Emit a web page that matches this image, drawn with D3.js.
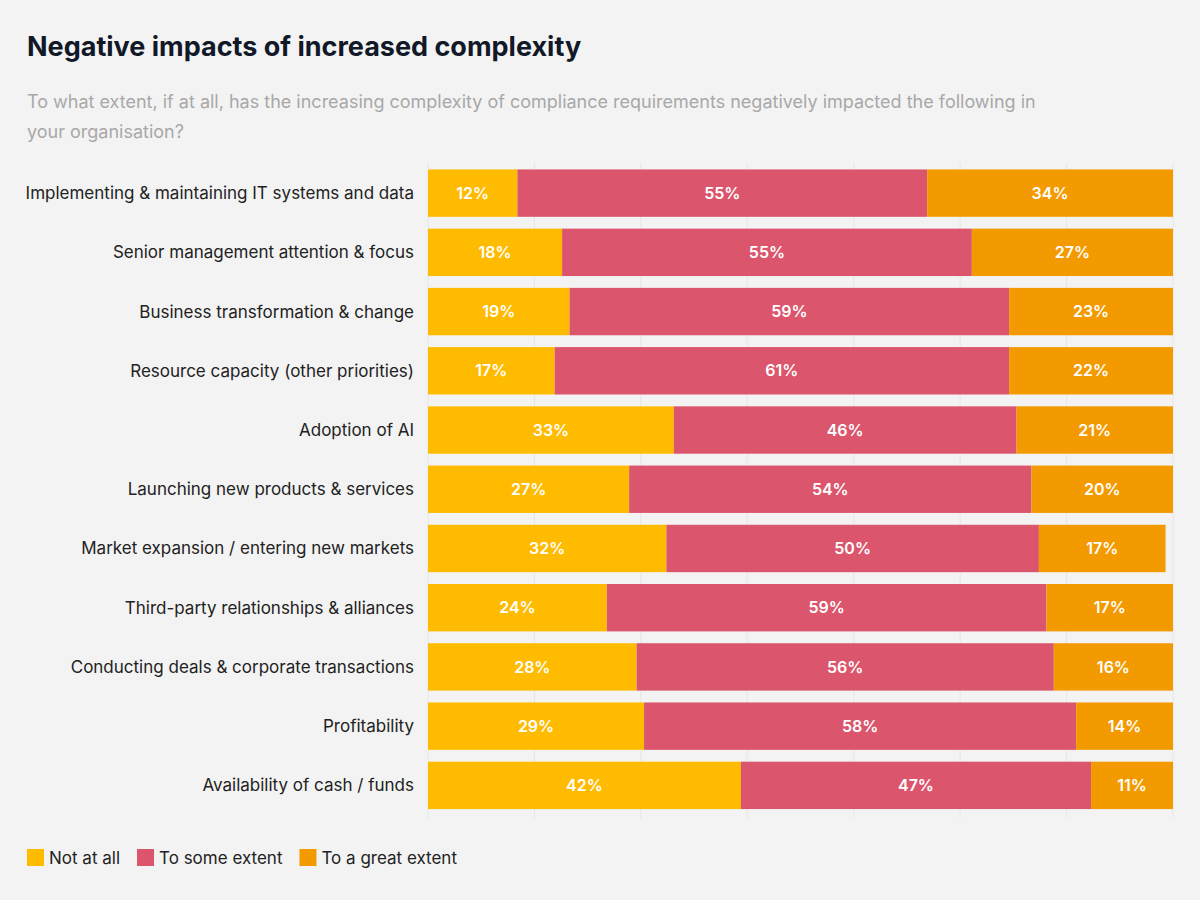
<!DOCTYPE html>
<html lang="en">
<head>
<meta charset="utf-8" />
<title>Negative impacts</title>
<script src="https://d3js.org/d3.v7.min.js"></script>
<style>
  body { margin: 0; background: #f3f3f3; font-family: Inter, "Noto Sans", sans-serif; }
</style>
</head>
<body>
<svg id="chart" width="1200" height="900"></svg>
<script>
const categories = [
  "Implementing & maintaining IT systems and data",
  "Senior management attention & focus",
  "Business transformation & change",
  "Resource capacity (other priorities)",
  "Adoption of AI",
  "Launching new products & services",
  "Market expansion / entering new markets",
  "Third-party relationships & alliances",
  "Conducting deals & corporate transactions",
  "Profitability",
  "Availability of cash / funds"
];
const notAtAll = [12, 18, 19, 17, 33, 27, 32, 24, 28, 29, 42];
const someExtent = [55, 55, 59, 61, 46, 54, 50, 59, 56, 58, 47];
const greatExtent = [34, 27, 23, 22, 21, 20, 17, 17, 16, 14, 11];
const seriesNames = ["Not at all", "To some extent", "To a great extent"];
const colors = ["#ffbb00", "#db556d", "#f39a00"];

const svg = d3.select("#chart");
svg.append("rect").attr("width", 1200).attr("height", 900).attr("fill", "#f3f3f3");

svg.append("text").attr("x", 27).attr("y", 56)
  .attr("font-size", 27).attr("font-weight", 700).attr("fill", "#111827")
  .text("Negative impacts of increased complexity");
const sub = svg.append("text").attr("font-size", 18).attr("fill", "#a8a8a8");
sub.append("tspan").attr("x", 27).attr("y", 108)
  .text("To what extent, if at all, has the increasing complexity of compliance requirements negatively impacted the following in");
sub.append("tspan").attr("x", 27).attr("y", 138).text("your organisation?");

const x = d3.scaleLinear().domain([0, 100]).range([428, 1173]);
const y = d3.scaleBand().domain(categories).range([163.5, 815]).paddingInner(0.2).paddingOuter(0.1);

// faint gridlines
svg.append("g").selectAll("line")
  .data(d3.range(0, 8).map(i => i * 100 / 7))
  .join("line")
  .attr("x1", d => x(d)).attr("x2", d => x(d))
  .attr("y1", 163).attr("y2", 818)
  .attr("stroke", "#e6e6e6");

const rows = categories.map((c, i) => ({ c, vals: [notAtAll[i], someExtent[i], greatExtent[i]] }));

const clip = svg.append("clipPath").attr("id", "plotclip");
clip.append("rect").attr("x", x(0)).attr("y", 0).attr("width", x(100) - x(0)).attr("height", 900);

const g = svg.append("g").attr("clip-path", "url(#plotclip)");
rows.forEach(r => {
  let start = 0;
  r.vals.forEach((v, k) => {
    const x0 = x(start), x1 = x(start + v);
    g.append("rect")
      .attr("x", x0).attr("y", y(r.c))
      .attr("width", x1 - x0).attr("height", y.bandwidth())
      .attr("fill", colors[k]);
    const mid = (x0 + Math.min(x1, x(100))) / 2;
    svg.append("text")
      .attr("x", mid).attr("y", y(r.c) + y.bandwidth() / 2)
      .attr("dy", "0.35em").attr("text-anchor", "middle")
      .attr("font-size", 16).attr("font-weight", 600).attr("fill", "#fff")
      .text(v + "%");
    start += v;
  });
});

svg.append("g").selectAll("text").data(categories).join("text")
  .attr("x", 414).attr("y", d => y(d) + y.bandwidth() / 2)
  .attr("dy", "0.35em").attr("text-anchor", "end")
  .attr("font-size", 17).attr("fill", "#222")
  .text(d => d);

// legend
let lx = 27;
seriesNames.forEach((n, k) => {
  svg.append("rect").attr("x", lx).attr("y", 849).attr("width", 17).attr("height", 17).attr("fill", colors[k]);
  const t = svg.append("text").attr("x", lx + 22).attr("y", 858).attr("dy", "0.35em")
    .attr("font-size", 17).attr("fill", "#222").text(n);
  lx += 22 + t.node().getComputedTextLength() + 17;
});
</script>
</body>
</html>
